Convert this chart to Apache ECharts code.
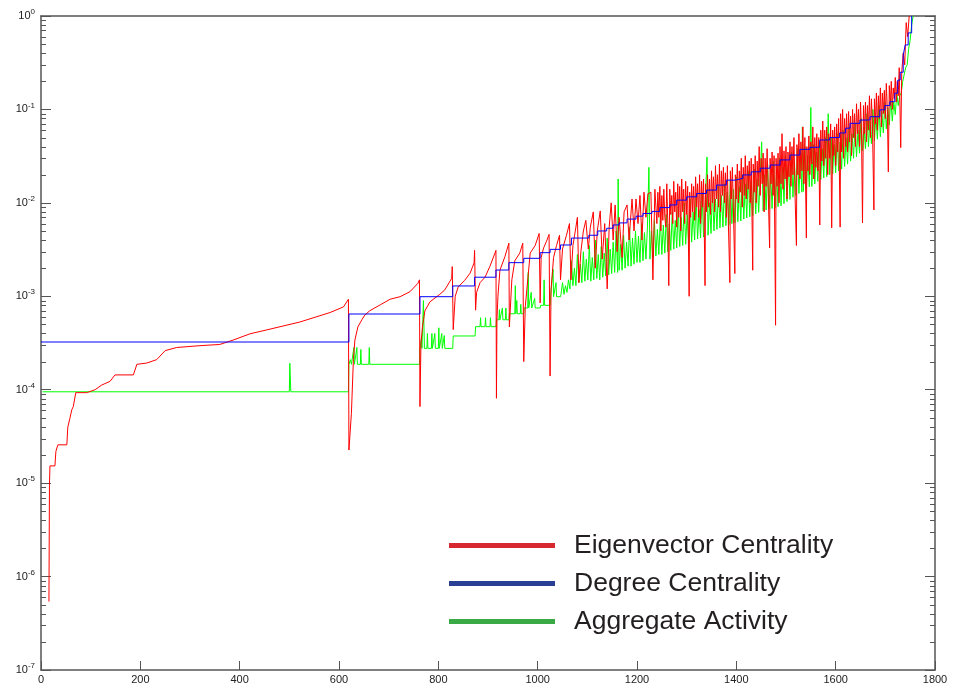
<!DOCTYPE html>
<html>
<head>
<meta charset="utf-8">
<script src="https://cdn.jsdelivr.net/npm/echarts@6/dist/echarts.min.js"></script>
<style>
  html, body { margin: 0; padding: 0; background: #ffffff; }
  #chart { width: 954px; height: 685px; }
</style>
</head>
<body>
<div id="chart"></div>
<script>
// Node rank (x) and centrality / activity value (y, log scale)
const eigenvectorData = [
  [16,5.4e-7],[17,9.5e-6],[18,1.53e-5],[28,1.53e-5],[30,2.19e-5],[34,2.57e-5],[52,2.57e-5],[54,3.98e-5],
  [58,4.9e-5],[62,6.1e-5],[65,6.6e-5],[70,9.3e-5],[92,9.3e-5],[95,9.6e-5],[109,1.0e-4],[122,1.12e-4],
  [139,1.23e-4],[149,1.44e-4],[186,1.44e-4],[193,1.87e-4],[213,1.93e-4],[233,2.1e-4],[250,2.62e-4],
  [273,2.83e-4],[320,2.96e-4],[360,3.05e-4],[387,3.4e-4],[421,3.97e-4],[454,4.36e-4],[521,5.3e-4],
  [582,6.7e-4],[609,7.7e-4],[619,9.3e-4],[620,2.26e-5],[625,5.6e-5],[629,2.1e-4],[632,3.4e-4],
  [638,4.7e-4],[646,5.6e-4],[652,6.3e-4],[662,7.0e-4],[683,8.1e-4],[703,9.3e-4],[723,9.9e-4],
  [743,1.12e-3],[759,1.38e-3],[762,1.5e-3],[763,6.6e-5],[765,3.1e-4],[768,4.7e-4],[773,7.0e-4],
  [783,8.7e-4],[803,1.05e-3],[813,1.17e-3],[827,1.56e-3],[828,2.08e-3],[830,4.4e-4],[834,1.0e-3],
  [840,1.26e-3],[853,1.48e-3],[864,1.77e-3],[872,2.28e-3],[873,3.1e-3],[875,7.1e-4],[877,1.1e-3],
  [884,1.4e-3],[894,1.6e-3],[904,2.1e-3],[914,2.9e-3],[916,3.1e-3],[917,8.1e-5],[918,5.6e-4],
  [920,1.0e-3],[924,1.9e-3],[934,2.65e-3],[942,3.7e-3],[943,4.7e-4],[948,1.5e-3],[954,2.4e-3],
  [964,2.9e-3],[970,3.7e-3],[972,2.0e-4],[975,7.7e-4],[985,2.9e-3],[995,3.5e-3],[1003,4.7e-3],
  [1005,8.5e-4],[1007,2.6e-3],[1012,3.3e-3],[1018,3.9e-3],[1023,4.6e-3],[1025,1.4e-4],[1027,1.2e-3],
  [1032,2.6e-3],[1038,3.5e-3],[1044,4.5e-3],[1046,1.5e-3],[1050,3.2e-3],[1058,4.5e-3],[1064,6.0e-3],
  [1067,1.5e-3],[1071,3.5e-3],[1077,5.5e-3],[1080,7.0e-3],[1083,1.4e-3],[1087,3.0e-3],[1092,5.0e-3],
  [1097,6.5e-3],[1102,3.2e-3],[1106,5.5e-3],[1112,8.0e-3],[1116,2.0e-3],[1120,5.0e-3],[1126,8.2e-3],
  [1130,2.5e-3],[1135,6.0e-3],[1140,1.2e-3],[1144,5.5e-3],[1148,1.0e-2],[1152,4.0e-3],[1156,9.5e-3],
  [1160,3.0e-3],[1164,7.0e-3],[1170,2.6e-3],[1174,8.0e-3],[1180,9.5e-3],[1184,4.0e-3],[1190,1.1e-2],
  [1194,5.0e-3],[1198,1.1e-2],[1202,6.0e-3],[1206,1.2e-2],[1210,4.0e-3],[1214,1.3e-2],[1218,7.0e-3],
  [1222,1.25e-2],[1228,1.3e-2],[1232,1.5e-3],[1236,1.4e-2],
  [1240,6.0e-3],[1242,1.3e-2],[1244,7.0e-3],[1246,1.5e-2],[1248,5.0e-3],[1250,1.2e-2],[1252,6.5e-3],
  [1254,1.4e-2],[1256,7.0e-3],[1258,5.5e-3],[1260,1.6e-2],[1262,6.0e-3],[1264,1.3e-3],[1266,1.4e-2],
  [1268,7.5e-3],[1270,1.2e-2],[1272,6.0e-3],[1274,1.7e-2],[1276,8.0e-3],[1278,1.3e-2],[1280,5.5e-3],
  [1282,1.6e-2],[1284,7.0e-3],[1286,1.5e-2],[1288,5.0e-3],[1290,1.8e-2],[1292,8.0e-3],[1294,1.4e-2],
  [1296,6.0e-3],[1298,1.7e-2],[1300,7.5e-3],[1302,1.5e-2],[1305,1.0e-3],[1306,1.3e-2],[1308,7.0e-3],
  [1310,1.6e-2],[1312,8.0e-3],[1314,1.5e-2],[1316,6.5e-3],[1318,1.9e-2],[1320,9.0e-3],[1322,1.6e-2],
  [1324,7.0e-3],[1326,2.0e-2],[1328,6.0e-3],[1330,1.7e-2],[1332,9.0e-3],[1334,1.8e-2],[1337,1.3e-3],
  [1338,1.6e-2],[1340,8.0e-3],[1342,2.0e-2],[1344,9.0e-3],[1346,1.8e-2],[1348,7.5e-3],[1350,2.2e-2],
  [1352,1.0e-2],[1354,1.9e-2],[1356,8.0e-3],[1358,2.5e-2],[1360,1.1e-2],[1362,2.0e-2],[1364,9.0e-3],
  [1366,2.6e-2],[1368,8.0e-3],[1370,2.2e-2],[1372,1.2e-2],[1374,2.4e-2],[1376,1.0e-2],[1378,2.1e-2],
  [1380,7.0e-3],[1382,2.5e-2],[1384,6.0e-3],[1387,1.4e-3],[1388,2.2e-2],[1390,1.1e-2],[1392,2.4e-2],
  [1394,9.0e-3],[1397,1.75e-3],[1398,2.0e-2],[1400,1.1e-2],[1402,2.6e-2],[1404,1.0e-2],[1406,2.2e-2],
  [1408,1.3e-2],[1410,3.0e-2],[1412,9.0e-3],[1414,2.4e-2],[1416,1.2e-2],[1418,3.2e-2],[1420,1.1e-2],
  [1422,2.5e-2],[1424,1.4e-2],[1426,2.8e-2],[1428,1.0e-2],[1430,3.0e-2],[1433,1.9e-3],[1434,2.6e-2],
  [1436,1.3e-2],[1438,3.2e-2],[1440,1.0e-2],[1442,2.8e-2],[1444,1.5e-2],[1446,4.0e-2],[1448,1.2e-2],
  [1450,3.0e-2],[1452,1.6e-2],[1454,3.4e-2],[1456,8.0e-3],[1458,3.0e-2],[1460,1.5e-2],[1462,3.8e-2],
  [1464,1.4e-2],[1467,3.3e-3],[1468,3.0e-2],[1470,1.6e-2],[1472,3.5e-2],[1474,1.2e-2],[1476,3.2e-2],
  [1479,4.9e-4],[1480,3.0e-2],[1482,1.5e-2],[1484,3.4e-2],[1486,1.0e-2],[1488,4.0e-2],[1490,1.6e-2],
  [1492,5.5e-2],[1494,1.4e-2],[1496,3.6e-2],[1498,1.8e-2],[1500,4.0e-2],[1502,1.1e-2],[1504,3.5e-2],
  [1506,1.9e-2],[1508,4.5e-2],[1510,1.5e-2],[1512,4.0e-2],[1514,2.0e-2],[1516,5.0e-2],[1518,1.3e-2],
  [1521,3.5e-3],[1522,4.2e-2],[1524,2.0e-2],[1526,5.5e-2],[1528,1.8e-2],[1530,4.5e-2],[1532,2.2e-2],
  [1534,6.5e-2],[1536,1.6e-2],[1538,5.0e-2],[1541,4.2e-3],[1542,4.0e-2],[1544,2.2e-2],[1546,5.2e-2],
  [1548,2.0e-2],[1550,4.5e-2],[1552,2.6e-2],[1554,6.5e-2],[1556,1.8e-2],[1558,5.0e-2],[1560,2.4e-2],
  [1562,5.5e-2],[1564,2.2e-2],[1566,5.0e-2],[1568,5.8e-3],[1570,6.0e-2],[1572,2.8e-2],[1574,7.5e-2],
  [1576,2.5e-2],[1578,6.0e-2],[1580,3.0e-2],[1582,6.5e-2],[1584,2.0e-2],[1586,5.5e-2],[1588,3.0e-2],
  [1590,7.0e-2],[1592,5.4e-3],[1594,6.0e-2],[1596,3.2e-2],[1598,6.5e-2],[1600,2.5e-2],[1602,7.0e-2],
  [1604,3.5e-2],[1606,8.0e-2],[1609,5.5e-3],[1610,9.0e-2],[1612,3.5e-2],[1614,1.0e-1],[1616,3.0e-2],
  [1618,8.0e-2],[1620,4.0e-2],[1622,9.0e-2],[1624,3.5e-2],[1626,9.5e-2],[1628,4.5e-2],[1630,8.5e-2],
  [1632,3.2e-2],[1634,1.0e-1],[1636,5.0e-2],[1638,9.0e-2],[1640,4.0e-2],[1642,1.15e-1],[1644,5.5e-2],
  [1646,1.0e-1],[1648,4.0e-2],[1650,1.2e-1],[1652,6.0e-2],[1654,6.1e-3],[1656,1.1e-1],[1658,5.5e-2],
  [1660,1.2e-1],[1662,4.5e-2],[1664,1.1e-1],[1666,6.0e-2],[1668,1.4e-1],[1670,5.0e-2],[1672,1.3e-1],
  [1674,7.0e-2],[1677,8.4e-3],[1678,1.3e-1],[1680,7.0e-2],[1682,1.5e-1],[1684,6.0e-2],[1686,1.4e-1],
  [1688,8.0e-2],[1690,1.7e-1],[1692,6.5e-2],[1694,1.5e-1],[1696,9.0e-2],[1698,1.6e-1],[1700,8.0e-2],
  [1702,1.9e-1],[1704,1.0e-1],[1706,2.15e-2],[1708,1.8e-1],[1710,1.1e-1],[1712,2.0e-1],[1714,1.0e-1],
  [1716,1.7e-1],[1718,1.3e-1],[1720,2.2e-1],[1722,1.2e-1],[1724,2.0e-1],[1726,1.4e-1],[1728,2.8e-1],
  [1731,3.9e-2],[1733,2.5e-1],[1736,4.0e-1],[1739,3.0e-1],[1742,8.5e-1],[1745,6.0e-1],[1748,1.0]
];

// Degree centrality: each point starts a new level (stepped line)
const degreeData = [
  [0,3.24e-4],[620,6.46e-4],[763,9.9e-4],[829,1.29e-3],[873,1.6e-3],[916,1.91e-3],[942,2.29e-3],
  [972,2.55e-3],[1005,2.93e-3],[1025,3.18e-3],[1046,3.54e-3],[1068,4.2e-3],[1103,4.5e-3],[1121,5.0e-3],
  [1139,5.35e-3],[1152,5.8e-3],[1164,6.1e-3],[1180,6.7e-3],[1198,7.2e-3],[1212,7.7e-3],[1230,8.1e-3],
  [1246,8.9e-3],[1266,9.5e-3],[1280,1.07e-2],[1300,1.16e-2],[1320,1.26e-2],[1340,1.37e-2],[1360,1.55e-2],
  [1380,1.75e-2],[1398,1.83e-2],[1413,1.99e-2],[1430,2.15e-2],[1448,2.35e-2],[1468,2.54e-2],[1488,2.88e-2],
  [1508,3.25e-2],[1528,3.74e-2],[1548,3.93e-2],[1568,4.71e-2],[1588,5.0e-2],[1608,5.6e-2],[1620,6.3e-2],
  [1629,7.1e-2],[1649,7.7e-2],[1669,8.36e-2],[1689,9.9e-2],[1699,1.1e-1],[1709,1.21e-1],[1719,1.49e-1],
  [1725,2.06e-1],[1730,2.5e-1],[1736,3.8e-1],[1740,4.9e-1],[1746,6.6e-1],[1753,1.0]
];

// Aggregate activity
const activityData = [
  [3,9.5e-5],[500,9.5e-5],[501,1.92e-4],[502,1.33e-4],[503,9.5e-5],[619,9.5e-5],
  [620,1.87e-4],[623,2.1e-4],[625,1.87e-4],[629,1.87e-4],[630,2.83e-4],[631,1.87e-4],[635,1.87e-4],
  [636,2.83e-4],[637,1.87e-4],[643,1.87e-4],[644,2.7e-4],[645,1.87e-4],[660,1.87e-4],[661,2.83e-4],
  [662,1.87e-4],[762,1.87e-4],
  [763,2.77e-4],[766,3.6e-4],[767,2.77e-4],[770,9.0e-4],[772,2.77e-4],[777,2.77e-4],[778,4.0e-4],
  [779,2.77e-4],[786,2.77e-4],[787,4.0e-4],[788,2.77e-4],[792,2.77e-4],[793,4.0e-4],[794,2.77e-4],
  [800,2.77e-4],[801,4.6e-4],[802,2.77e-4],[806,2.77e-4],[807,4.0e-4],[808,2.77e-4],[811,2.77e-4],
  [812,3.8e-4],[813,2.77e-4],[829,2.77e-4],
  [830,3.76e-4],[874,3.76e-4],
  [875,4.73e-4],[884,4.73e-4],[885,5.9e-4],[886,4.73e-4],[894,4.73e-4],[895,5.9e-4],[896,4.73e-4],
  [904,4.73e-4],[905,5.9e-4],[906,4.73e-4],[916,4.73e-4],
  [917,5.6e-4],[922,5.6e-4],[923,7.2e-4],[924,5.6e-4],[928,5.6e-4],[929,7.5e-4],[930,5.6e-4],
  [935,5.6e-4],[936,7.5e-4],[937,5.6e-4],[942,5.6e-4],
  [943,6.5e-4],[954,6.5e-4],[955,1.3e-3],[956,6.5e-4],[958,9.0e-4],[959,6.5e-4],[965,6.5e-4],
  [966,8.2e-4],[967,6.5e-4],[972,6.5e-4],
  [973,7.5e-4],[980,7.5e-4],[981,1.8e-3],[982,7.5e-4],[987,1.1e-3],[988,7.5e-4],[994,9.5e-4],
  [995,7.5e-4],[1005,7.5e-4],
  [1006,8.0e-4],[1012,8.0e-4],[1013,1.5e-3],[1014,8.0e-4],[1025,8.0e-4],
  [1026,9.9e-4],[1030,9.9e-4],[1031,1.95e-3],[1032,9.9e-4],[1037,1.4e-3],[1038,9.9e-4],[1046,9.9e-4],
  [1047,1.05e-3],[1050,1.4e-3],[1053,1.05e-3],[1056,1.3e-3],[1059,1.1e-3],[1062,1.5e-3],
  [1065,1.2e-3],[1068,2.4e-3],[1071,1.3e-3],[1074,2.0e-3],[1077,1.3e-3],[1080,2.8e-3],[1083,1.4e-3],
  [1086,2.2e-3],[1089,1.4e-3],[1092,3.0e-3],[1095,1.45e-3],[1098,2.5e-3],[1101,1.5e-3],[1104,3.5e-3],
  [1107,1.45e-3],[1110,2.6e-3],[1113,1.5e-3],[1116,4.0e-3],[1119,1.55e-3],[1122,2.8e-3],[1125,1.5e-3],
  [1128,3.4e-3],[1131,1.6e-3],[1134,2.9e-3],[1137,1.65e-3],[1140,4.2e-3],[1143,1.7e-3],[1146,3.2e-3],
  [1149,1.75e-3],[1152,3.8e-3],[1155,1.8e-3],[1158,5.0e-3],[1161,1.8e-3],[1162,1.8e-2],[1164,1.9e-3],
  [1167,3.6e-3],[1170,1.9e-3],[1173,4.5e-3],[1176,2.0e-3],[1179,3.8e-3],[1182,2.1e-3],[1185,5.5e-3],
  [1188,2.1e-3],[1191,4.2e-3],[1194,2.2e-3],[1197,5.0e-3],[1200,2.3e-3],[1203,4.4e-3],[1206,2.3e-3],
  [1209,6.0e-3],[1212,2.4e-3],[1215,4.8e-3],[1218,2.5e-3],[1221,5.5e-3],[1224,2.4e-2],[1226,2.5e-3],
  [1229,5.0e-3],[1232,2.6e-3],[1235,6.5e-3],[1238,2.7e-3],[1241,5.2e-3],[1244,2.8e-3],[1247,7.0e-3],
  [1250,2.8e-3],[1253,5.8e-3],[1256,2.9e-3],[1259,7.5e-3],[1262,3.0e-3],[1265,6.0e-3],[1268,3.1e-3],
  [1271,8.0e-3],[1274,3.2e-3],[1277,6.5e-3],[1280,3.3e-3],[1283,9.0e-3],[1286,3.4e-3],[1289,7.0e-3],
  [1292,3.5e-3],[1295,1.0e-2],[1298,3.6e-3],[1301,7.5e-3],[1304,3.7e-3],[1307,1.1e-2],[1310,3.8e-3],
  [1313,8.0e-3],[1316,4.0e-3],[1319,1.2e-2],[1322,4.1e-3],[1325,8.5e-3],[1328,4.2e-3],[1331,1.3e-2],
  [1334,4.3e-3],[1337,9.0e-3],[1341,3.1e-2],[1343,4.5e-3],[1346,1.0e-2],[1349,4.7e-3],[1352,1.4e-2],
  [1355,5.0e-3],[1358,1.1e-2],[1361,5.2e-3],[1364,1.5e-2],[1367,5.4e-3],[1370,1.2e-2],[1373,5.5e-3],
  [1376,1.6e-2],[1379,5.7e-3],[1382,1.3e-2],[1385,5.8e-3],[1388,1.8e-2],[1391,6.0e-3],[1394,1.4e-2],
  [1397,6.1e-3],[1400,1.9e-2],[1403,6.3e-3],[1406,1.5e-2],[1409,6.4e-3],[1412,2.0e-2],[1415,6.7e-3],
  [1418,1.6e-2],[1421,6.9e-3],[1424,2.2e-2],[1427,7.1e-3],[1430,1.7e-2],[1433,7.3e-3],[1436,2.3e-2],
  [1439,7.6e-3],[1442,1.8e-2],[1445,7.9e-3],[1448,8.0e-3],[1451,4.5e-2],[1454,8.2e-3],[1457,2.0e-2],
  [1460,8.4e-3],[1463,2.6e-2],[1466,8.6e-3],[1469,2.1e-2],[1472,8.7e-3],[1475,2.8e-2],[1478,8.9e-3],
  [1481,2.2e-2],[1484,9.1e-3],[1487,3.0e-2],[1490,9.3e-3],[1493,2.4e-2],[1496,9.8e-3],[1499,3.2e-2],
  [1502,1.03e-2],[1505,2.6e-2],[1508,1.09e-2],[1511,3.5e-2],[1514,1.15e-2],[1517,2.8e-2],[1520,1.2e-2],
  [1523,3.8e-2],[1526,1.26e-2],[1529,3.0e-2],[1532,1.3e-2],[1533,6.5e-2],[1535,1.33e-2],[1538,4.0e-2],
  [1541,1.4e-2],[1544,3.2e-2],[1547,1.48e-2],[1550,1.05e-1],[1552,1.5e-2],[1555,4.2e-2],[1558,1.6e-2],
  [1561,3.5e-2],[1564,1.7e-2],[1567,4.5e-2],[1570,1.78e-2],[1573,3.8e-2],[1576,1.85e-2],[1579,5.0e-2],
  [1582,1.9e-2],[1585,9.0e-2],[1588,2.0e-2],[1591,5.0e-2],[1594,2.05e-2],[1597,4.2e-2],[1600,2.1e-2],
  [1603,5.5e-2],[1606,2.2e-2],[1609,4.5e-2],[1612,2.3e-2],[1615,6.0e-2],[1618,2.45e-2],[1621,5.0e-2],
  [1624,2.6e-2],[1627,6.5e-2],[1630,2.8e-2],[1633,5.5e-2],[1636,3.0e-2],[1639,7.0e-2],[1642,3.1e-2],
  [1645,6.0e-2],[1648,3.4e-2],[1651,8.0e-2],[1654,3.6e-2],[1657,6.5e-2],[1660,3.8e-2],[1663,9.0e-2],
  [1666,4.0e-2],[1669,7.5e-2],[1672,4.3e-2],[1675,1.0e-1],[1678,4.6e-2],[1681,8.5e-2],[1684,4.8e-2],
  [1687,1.1e-1],[1690,5.1e-2],[1693,9.5e-2],[1696,5.6e-2],[1699,1.2e-1],[1702,6.2e-2],[1705,1.05e-1],
  [1708,6.8e-2],[1711,1.3e-1],[1714,7.5e-2],[1717,1.2e-1],[1720,8.8e-2],[1723,1.5e-1],[1726,1.1e-1],
  [1729,1.4e-1],[1732,1.5e-1],[1735,2.0e-1],[1738,2.0e-1],[1741,2.8e-1],[1744,3.0e-1],[1747,4.5e-1],
  [1750,5.5e-1],[1753,8.0e-1],[1756,1.0]
];

const seriesNames = ['Eigenvector Centrality', 'Degree Centrality', 'Aggregate Activity'];
const lineColors = ['#ff0000', '#0000ff', '#00ff00'];
const legendColors = ['#d7282f', '#283f93', '#3aaa47'];

// Y axis decades and the 2..9 subdivisions drawn as small inward ticks
const decadeMin = -7, decadeMax = 0;
const minorTickValues = [];
for (let k = decadeMin; k < decadeMax; k++) {
  for (let m = 2; m <= 9; m++) minorTickValues.push([0, m * Math.pow(10, k)]);
}

const axisColor = '#555555';
const tickFont = "'Liberation Sans Narrow', 'Liberation Sans', Arial, sans-serif";

const chart = echarts.init(document.getElementById('chart'), null, { renderer: 'canvas' });

const option = {
  animation: false,
  backgroundColor: '#ffffff',
  grid: { left: 41, right: 19, top: 16, bottom: 15, containLabel: false },
  legend: {
    orient: 'vertical',
    left: 444,
    top: 527,
    icon: 'rect',
    itemWidth: 106,
    itemHeight: 5,
    itemGap: 11,
    selectedMode: false,
    textStyle: {
      fontSize: 26.5,
      color: '#231f20',
      fontFamily: "'Liberation Sans', Arial, sans-serif",
      padding: [0, 0, 0, 14]
    },
    data: seriesNames.map((n, i) => ({ name: n, itemStyle: { color: legendColors[i] } }))
  },
  xAxis: [
    {
      type: 'value', min: 0, max: 1800, interval: 200,
      axisLine: { show: true, onZero: false, lineStyle: { color: axisColor, width: 1.5 } },
      axisTick: { show: true, inside: true, length: 9, lineStyle: { color: axisColor, width: 1 } },
      axisLabel: { show: true, margin: 4, fontSize: 11, color: '#222222', fontFamily: tickFont,
        showMinLabel: true, showMaxLabel: true, formatter: (v) => String(v) },
      splitLine: { show: false }
    },
    {
      type: 'value', min: 0, max: 1800, position: 'top',
      axisLine: { show: true, onZero: false, lineStyle: { color: axisColor, width: 1.5 } },
      axisTick: { show: false }, axisLabel: { show: false }, splitLine: { show: false }
    }
  ],
  yAxis: [
    {
      type: 'log', logBase: 10, min: 1e-7, max: 1, splitNumber: 7,
      axisLine: { show: true, onZero: false, lineStyle: { color: axisColor, width: 1.5 } },
      axisTick: { show: true, inside: true, length: 10, lineStyle: { color: axisColor, width: 1 } },
      axisLabel: {
        show: true, margin: 6, color: '#222222', fontFamily: tickFont,
        showMinLabel: true, showMaxLabel: true,
        formatter: (v) => '{b|10}{e|' + Math.round(Math.log10(v)) + '}',
        rich: {
          b: { fontSize: 11, lineHeight: 16, color: '#222222', fontFamily: tickFont },
          e: { fontSize: 8, lineHeight: 8, verticalAlign: 'top', color: '#222222', fontFamily: tickFont }
        }
      },
      splitLine: { show: false }
    },
    {
      type: 'log', logBase: 10, min: 1e-7, max: 1, splitNumber: 7, position: 'right',
      axisLine: { show: true, onZero: false, lineStyle: { color: axisColor, width: 1.5 } },
      axisTick: { show: true, inside: true, length: 10, lineStyle: { color: axisColor, width: 1 } },
      axisLabel: { show: false }, splitLine: { show: false }
    }
  ],
  series: [
    {
      name: seriesNames[2], type: 'line', data: activityData, symbol: 'none', showSymbol: false,
      lineStyle: { color: lineColors[2], width: 1 }, itemStyle: { color: lineColors[2] },
      z: 2, silent: true
    },
    {
      name: seriesNames[0], type: 'line', data: eigenvectorData, symbol: 'none', showSymbol: false,
      lineStyle: { color: lineColors[0], width: 1 }, itemStyle: { color: lineColors[0] },
      z: 3, silent: true
    },
    {
      name: seriesNames[1], type: 'line', step: 'end', data: degreeData, symbol: 'none', showSymbol: false,
      lineStyle: { color: lineColors[1], width: 1 }, itemStyle: { color: lineColors[1] },
      z: 4, silent: true
    },
    {
      name: 'yMinorTicks', type: 'custom', data: minorTickValues, silent: true, z: 5,
      renderItem: (params, api) => {
        const y = Math.round(api.coord([0, api.value(1)])[1]) + 0.5;
        const cs = params.coordSys;
        const style = { stroke: axisColor, lineWidth: 1 };
        return {
          type: 'group',
          children: [
            { type: 'line', shape: { x1: cs.x, y1: y, x2: cs.x + 5, y2: y }, style },
            { type: 'line', shape: { x1: cs.x + cs.width - 5, y1: y, x2: cs.x + cs.width, y2: y }, style }
          ]
        };
      }
    }
  ]
};

chart.setOption(option);
</script>
</body>
</html>
